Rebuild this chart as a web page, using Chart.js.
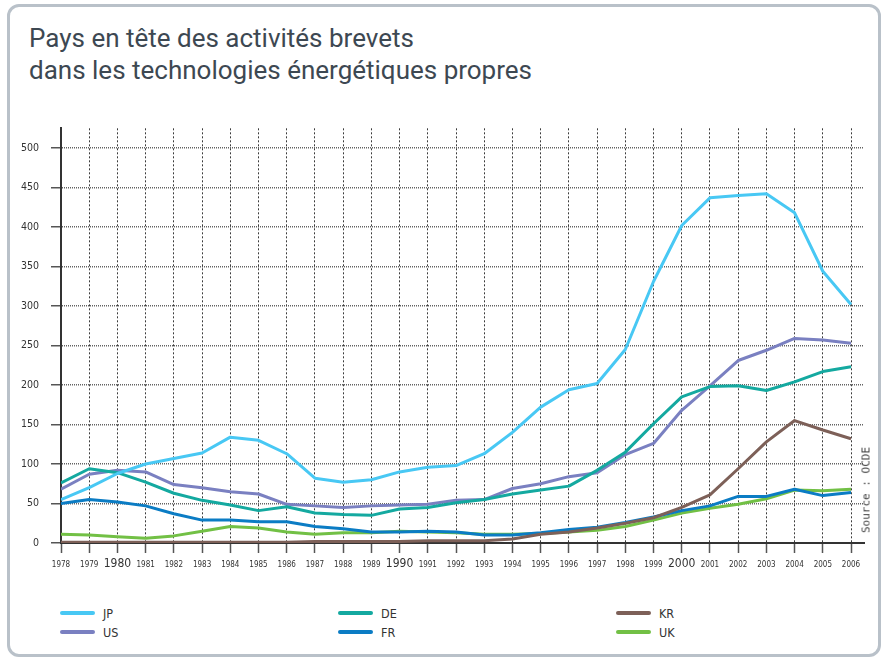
<!DOCTYPE html>
<html lang="fr">
<head>
<meta charset="utf-8">
<script src="https://cdn.jsdelivr.net/npm/chart.js@4.4.1/dist/chart.umd.min.js"></script>
<style>
    html, body { margin: 0; padding: 0; background: #fff; }
    body { width: 886px; height: 658px; position: relative; overflow: hidden; }
    .card { position: absolute; left: 7px; top: 4px; width: 868px; height: 647px; border: 3px solid #b9c1c9; border-radius: 12px; }
    .title { position: absolute; left: 29px; top: 22px; font-family: Roboto, sans-serif; font-size: 26px; line-height: 32px; color: #3d4852; }
    .chart-wrap { position: absolute; left: 0; top: 110px; width: 886px; height: 470px; }
    .legend-item { position: absolute; height: 16px; display: flex; align-items: center; font-family: "DejaVu Sans Condensed", sans-serif; font-size: 12.5px; color: #333; }
    .legend-item .swatch { width: 35px; height: 4px; border-radius: 2px; margin-right: 8px; }
    .source { position: absolute; left: 866px; top: 490px; transform: translate(-50%, -50%) rotate(-90deg); font-family: "DejaVu Sans Mono", monospace; font-size: 11px; color: #444; white-space: nowrap; }
</style>
</head>
<body>
<div class="card"></div>
<div class="title">Pays en tête des activités brevets<br>dans les technologies énergétiques propres</div>
<div class="chart-wrap"><canvas id="chart" width="886" height="470"></canvas></div>
<div id="legend"></div>
<div class="source">Source : OCDE</div>

<script>
const years = [1978, 1979, 1980, 1981, 1982, 1983, 1984, 1985, 1986, 1987, 1988, 1989, 1990, 1991, 1992,
    1993, 1994, 1995, 1996, 1997, 1998, 1999, 2000, 2001, 2002, 2003, 2004, 2005, 2006];
const decades = [1980, 1990, 2000];
const yTicks = [0, 50, 100, 150, 200, 250, 300, 350, 400, 450, 500];

const jp = [55, 70, 88, 100, 107, 114, 134, 130, 113, 82, 77, 80, 90, 96, 98,
    113, 140, 172, 194, 202, 245, 331, 402, 437, 440, 442, 418, 344, 302];
const de = [76, 94, 89, 77, 63, 54, 48, 41, 46, 38, 36, 35, 43, 45, 51,
    55, 62, 67, 72, 92, 115, 151, 185, 198, 199, 193, 204, 217, 223];
const kr = [1, 1, 1, 1, 1, 1, 1, 1, 1, 2, 2, 2, 2, 3, 3,
    3, 5, 11, 14, 19, 25, 32, 45, 61, 94, 128, 155, 143, 132];
const us = [68, 87, 92, 90, 74, 70, 65, 62, 49, 47, 45, 47, 48, 49, 54,
    55, 69, 75, 84, 89, 112, 126, 168, 199, 231, 244, 259, 257, 253];
const fr = [50, 55, 52, 47, 37, 29, 29, 27, 27, 21, 18, 14, 14, 15, 14,
    10, 10, 13, 17, 20, 26, 33, 41, 47, 59, 59, 68, 60, 64];
const uk = [11, 10, 8, 6, 9, 15, 21, 19, 14, 11, 13, 13, 15, 14, 13,
    11, 11, 12, 14, 16, 21, 29, 38, 44, 49, 56, 67, 66, 68];

// legend order: row 1 JP, DE, KR / row 2 US, FR, UK
const series = [
    { label: 'JP', values: jp, color: '#48c8f4' },
    { label: 'DE', values: de, color: '#14a9a0' },
    { label: 'KR', values: kr, color: '#7d6058' },
    { label: 'US', values: us, color: '#7a80c1' },
    { label: 'FR', values: fr, color: '#0b7cc4' },
    { label: 'UK', values: uk, color: '#72c045' }
];

const tickFont = "'DejaVu Sans Condensed', 'DejaVu Sans', sans-serif";

const datasets = series.map(s => ({
    label: s.label,
    data: years.map((yr, i) => ({ x: yr, y: s.values[i] })),
    borderColor: s.color,
    backgroundColor: s.color,
    borderWidth: 3,
    pointRadius: 0,
    tension: 0,
    fill: false,
    borderJoinStyle: 'round'
}));

const ctx = document.getElementById('chart').getContext('2d');
const chart = new Chart(ctx, {
    type: 'line',
    data: { datasets: datasets },
    options: {
        responsive: false,
        animation: false,
        layout: { padding: { left: 0, right: 22, top: 15, bottom: 0 } },
        scales: {
            x: {
                type: 'linear',
                min: 1978,
                max: 2006.46,
                afterBuildTicks: scale => { scale.ticks = years.map(v => ({ value: v })); },
                afterFit: scale => { scale.height = 37; },
                ticks: {
                    autoSkip: false,
                    maxRotation: 0,
                    padding: 5,
                    color: '#333',
                    callback: value => String(value),
                    font: c => {
                        const big = c.tick && decades.includes(c.tick.value);
                        return big ? { family: tickFont, size: 12, lineHeight: 1 }
                                   : { family: tickFont, size: 8, lineHeight: 1.85 };
                    }
                },
                grid: {
                    color: 'rgba(25,25,25,0.85)',
                    lineWidth: 1,
                    tickLength: 10,
                    tickColor: '#555',
                    tickWidth: 1.5
                },
                border: { display: true, color: '#333', width: 2, dash: [2, 2] }
            },
            y: {
                type: 'linear',
                min: 0,
                max: 525,
                afterBuildTicks: scale => { scale.ticks = yTicks.map(v => ({ value: v })); },
                afterFit: scale => { scale.width = 61; },
                ticks: {
                    padding: 12,
                    color: '#333',
                    font: { family: tickFont, size: 10.5 }
                },
                grid: {
                    color: 'rgba(60,60,60,0.8)',
                    lineWidth: 1.5,
                    tickLength: 10,
                    tickColor: '#555',
                    tickWidth: 1.5
                },
                border: { display: true, color: '#333', width: 2, dash: [1, 1] }
            }
        },
        plugins: {
            legend: { display: false },
            tooltip: { enabled: false }
        }
    }
});

// html legend built from the chart datasets, 3 columns x 2 rows
const legendCols = [60, 338, 616];
const legendRows = [605, 624];
const legend = document.getElementById('legend');
chart.data.datasets.forEach((ds, i) => {
    const item = document.createElement('div');
    item.className = 'legend-item';
    item.style.left = legendCols[i % 3] + 'px';
    item.style.top = legendRows[Math.floor(i / 3)] + 'px';
    const swatch = document.createElement('span');
    swatch.className = 'swatch';
    swatch.style.background = ds.borderColor;
    const text = document.createElement('span');
    text.textContent = ds.label;
    item.appendChild(swatch);
    item.appendChild(text);
    legend.appendChild(item);
});
</script>
</body>
</html>
